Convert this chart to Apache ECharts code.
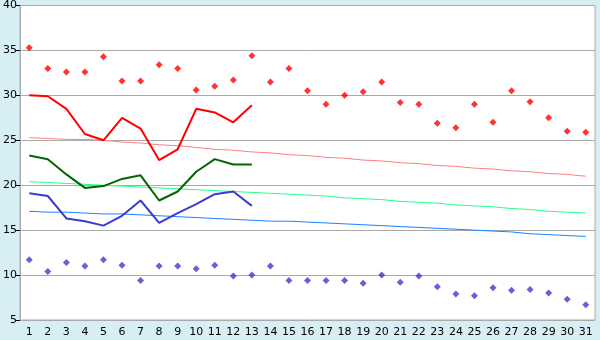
<!DOCTYPE html>
<html><head><meta charset="utf-8">
<script src="https://cdn.jsdelivr.net/npm/echarts@6/dist/echarts.min.js"></script>
<style>html,body{margin:0;padding:0;background:#d8eef5}#c{width:600px;height:340px}</style>
</head><body><div id="c"></div>
<script>
const days = Array.from({length:31},(_,i)=>String(i+1));
const maxPts = [35.3,33.0,32.6,32.6,34.3,31.6,31.6,33.4,33.0,30.6,31.0,31.7,34.4,31.5,33.0,30.5,29.0,30.0,30.4,31.5,29.2,29.0,26.9,26.4,29.0,27.0,30.5,29.3,27.5,26.0,25.9];
const minPts = [11.7,10.4,11.4,11.0,11.7,11.1,9.4,11.0,11.0,10.7,11.1,9.9,10.0,11.0,9.4,9.4,9.4,9.4,9.1,10.0,9.2,9.9,8.7,7.9,7.7,8.6,8.3,8.4,8.0,7.3,6.7];
const maxLine = [30.0,29.9,28.5,25.7,25.0,27.5,26.3,22.8,24.0,28.5,28.1,27.0,28.9];
const meanLine = [23.3,22.9,21.2,19.7,19.9,20.7,21.1,18.3,19.3,21.5,22.9,22.3,22.3];
const minLine = [19.1,18.8,16.3,16.0,15.5,16.6,18.3,15.8,16.9,17.9,19.0,19.3,17.7];
const normMax = [25.3,25.2,25.1,25.1,25.0,24.8,24.7,24.5,24.4,24.2,24.0,23.9,23.7,23.6,23.4,23.3,23.1,23.0,22.8,22.7,22.5,22.4,22.2,22.1,21.9,21.8,21.6,21.5,21.3,21.2,21.0];
const normMean = [20.4,20.3,20.2,20.1,20.0,19.9,19.8,19.7,19.6,19.5,19.4,19.3,19.2,19.1,19.0,18.9,18.8,18.6,18.5,18.4,18.2,18.1,18.0,17.8,17.7,17.6,17.4,17.3,17.1,17.0,16.9];
const normMin = [17.1,17.0,17.0,16.9,16.8,16.8,16.7,16.6,16.5,16.4,16.3,16.2,16.1,16.0,16.0,15.9,15.8,15.7,15.6,15.5,15.4,15.3,15.2,15.1,15.0,14.9,14.8,14.6,14.5,14.4,14.3];
const yTicks = {min:5,max:40,interval:5};

const chart = echarts.init(document.getElementById('c'), null, {renderer:'canvas'});
const font = '"DejaVu Sans", Verdana, sans-serif';
function line(data,color,width,z){return {type:'line',data,symbol:'none',lineStyle:{color,width},itemStyle:{color},z,animation:false};}
function pts(data,color){return {type:'scatter',data,symbol:'diamond',symbolSize:7,itemStyle:{color},z:5,animation:false};}
chart.setOption({
  animation:false,
  backgroundColor:'#d8eef5',
  grid:{left:20,right:5,top:5,bottom:20,show:true,backgroundColor:'#ffffff',borderColor:'#aaaaaa',borderWidth:1},
  xAxis:{type:'category',data:days,boundaryGap:true,
    axisLine:{lineStyle:{color:'#aaaaaa'}},
    axisTick:{alignWithLabel:true,length:5,lineStyle:{color:'#000'}},
    axisLabel:{color:'#000',fontFamily:font,fontSize:11,margin:7,interval:0}},
  yAxis:{type:'value',min:yTicks.min,max:yTicks.max,interval:yTicks.interval,
    axisLine:{show:true,lineStyle:{color:'#aaaaaa'}},
    axisTick:{show:true,length:4,lineStyle:{color:'#000'}},
    splitLine:{lineStyle:{color:'#aaaaaa'}},
    axisLabel:{color:'#000',fontFamily:font,fontSize:11,margin:3}},
  series:[
    line(normMax,'#ff8080',1,2),
    line(normMean,'#22ff88',1,2),
    line(normMin,'#1a80ff',1,2),
    line(maxLine,'#ff0000',2,3),
    line(meanLine,'#006600',2,3),
    line(minLine,'#3c3ccc',2,3),
    pts(maxPts,'#ff0000'),
    pts(minPts,'#3c3ccc')
  ]
});
</script></body></html>
